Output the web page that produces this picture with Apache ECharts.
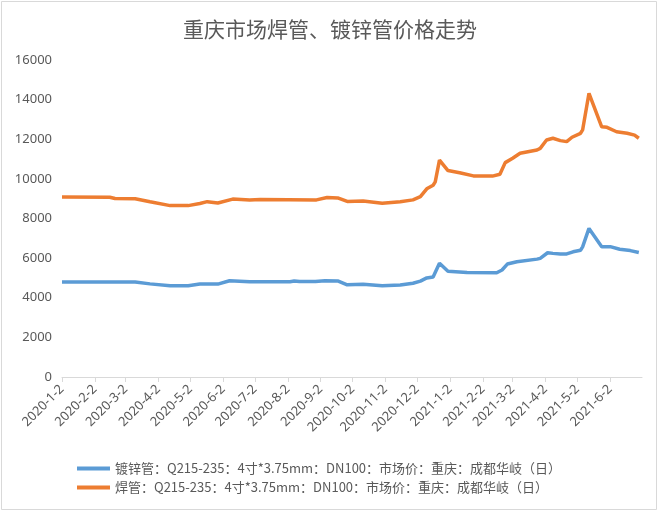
<!DOCTYPE html>
<html><head><meta charset="utf-8">
<script src="https://cdn.jsdelivr.net/npm/echarts@6/dist/echarts.min.js"></script>
<style>html,body{margin:0;padding:0;background:#fff}#c{width:660px;height:513px}</style>
</head><body><div id="c"></div>
<script>
const titleText = '重庆市场焊管、镀锌管价格走势';
const seriesNames = [
  '镀锌管：Q215-235：4寸*3.75mm：DN100：市场价：重庆：成都华岐（日）',
  '焊管：Q215-235：4寸*3.75mm：DN100：市场价：重庆：成都华岐（日）'
];
const tickLabels = ['2020-1-2','2020-2-2','2020-3-2','2020-4-2','2020-5-2','2020-6-2','2020-7-2','2020-8-2','2020-9-2','2020-10-2','2020-11-2','2020-12-2','2021-1-2','2021-2-2','2021-3-2','2021-4-2','2021-5-2','2021-6-2'];
const axisStart = '2020-1-2';
const axisEnd = '2021-7-2';

// 镀锌管 (galvanized)
const galvDates = ['2020-1-2','2020-2-16','2020-3-11','2020-3-25','2020-4-13','2020-4-30','2020-5-11','2020-5-28','2020-6-8','2020-6-27','2020-8-4','2020-8-8','2020-8-13','2020-8-28','2020-9-6','2020-9-18','2020-9-27','2020-10-12','2020-10-30','2020-11-16','2020-11-28','2020-12-5','2020-12-11','2020-12-17','2020-12-23','2020-12-31','2021-1-18','2021-2-15','2021-2-20','2021-2-25','2021-3-6','2021-3-25','2021-3-28','2021-4-4','2021-4-9','2021-4-16','2021-4-22','2021-4-28','2021-5-5','2021-5-7','2021-5-13','2021-5-25','2021-6-2','2021-6-11','2021-6-21','2021-6-29'];
const galvValues = [4790,4790,4790,4700,4610,4610,4690,4690,4860,4810,4810,4850,4820,4820,4860,4850,4650,4680,4600,4640,4730,4840,5000,5050,5740,5340,5270,5260,5400,5700,5820,5950,5990,6270,6240,6210,6210,6320,6400,6570,7500,6580,6580,6450,6380,6280];

// 焊管 (welded)
const weldDates = ['2020-1-2','2020-2-16','2020-2-21','2020-3-11','2020-3-25','2020-4-13','2020-4-30','2020-5-11','2020-5-18','2020-5-28','2020-6-11','2020-6-27','2020-7-7','2020-8-29','2020-9-8','2020-9-18','2020-9-27','2020-10-12','2020-10-30','2020-11-16','2020-11-28','2020-12-5','2020-12-11','2020-12-17','2020-12-19','2020-12-23','2020-12-31','2021-1-11','2021-1-24','2021-2-11','2021-2-18','2021-2-23','2021-3-2','2021-3-9','2021-3-25','2021-3-28','2021-4-3','2021-4-9','2021-4-16','2021-4-22','2021-4-27','2021-5-5','2021-5-7','2021-5-13','2021-5-25','2021-5-30','2021-6-8','2021-6-18','2021-6-25','2021-6-29'];
const weldValues = [9080,9070,9010,9000,8850,8650,8650,8760,8850,8780,8980,8930,8960,8940,9060,9040,8860,8880,8770,8850,8940,9100,9500,9680,9850,10950,10420,10310,10150,10140,10230,10820,11040,11290,11460,11540,11960,12050,11930,11880,12100,12300,12470,14320,12630,12600,12380,12300,12210,12050];

const DAY = 86400000;
function ts(s){const p=s.split('-').map(Number);return Math.round(Date.UTC(p[0],p[1]-1,p[2])/DAY);}
const tickValues = tickLabels.map(ts);
function pairs(d,v){return d.map((x,i)=>[ts(x),v[i]]);}
function fmt(v){const d=new Date(v*DAY);return d.getUTCFullYear()+'-'+(d.getUTCMonth()+1)+'-'+d.getUTCDate();}

const chart = echarts.init(document.getElementById('c'));
const txt = '#595959';
chart.setOption({
  animation:false,
  backgroundColor:'#fff',
  textStyle:{fontFamily:'"Noto Sans CJK SC","Noto Sans",sans-serif'},
  graphic:[{type:'rect',shape:{x:1.5,y:1.5,width:655,height:508},style:{fill:'none',stroke:'#d9d9d9',lineWidth:1},silent:true,z:-1}],
  title:{text:titleText,left:'center',top:14,textStyle:{fontSize:21,fontWeight:'normal',color:txt,fontFamily:'"Noto Sans CJK SC",serif'}},
  grid:{left:62,right:18,top:60,bottom:136,containLabel:false},
  legend:{orient:'vertical',left:72,top:457,itemGap:6,itemWidth:33,itemHeight:4,icon:'rect',
    textStyle:{fontSize:13,color:txt},data:seriesNames},
  xAxis:{type:'value',min:ts(axisStart),max:ts(axisEnd),
    axisLine:{show:true,lineStyle:{color:'#d9d9d9',width:1}},
    axisTick:{show:true,customValues:tickValues,length:5,inside:false,lineStyle:{color:'#d9d9d9'}},
    axisLabel:{customValues:tickValues,rotate:45,fontSize:13,color:txt,margin:10,formatter:fmt,fontFamily:'"Noto Sans",sans-serif'},
    splitLine:{show:false}},
  yAxis:{type:'value',min:0,max:16000,interval:2000,
    axisLine:{show:false},axisTick:{show:false},splitLine:{show:false},
    axisLabel:{fontSize:13,color:txt,margin:10,formatter:function(v){return String(v);},fontFamily:'"Noto Sans",sans-serif'}},
  series:[
    {name:seriesNames[0],type:'line',data:pairs(galvDates,galvValues),showSymbol:false,symbol:'none',
      lineStyle:{width:3.5,color:'#5B9BD5'},itemStyle:{color:'#5B9BD5'}},
    {name:seriesNames[1],type:'line',data:pairs(weldDates,weldValues),showSymbol:false,symbol:'none',
      lineStyle:{width:3.5,color:'#ED7D31'},itemStyle:{color:'#ED7D31'}}
  ]
});
</script></body></html>
